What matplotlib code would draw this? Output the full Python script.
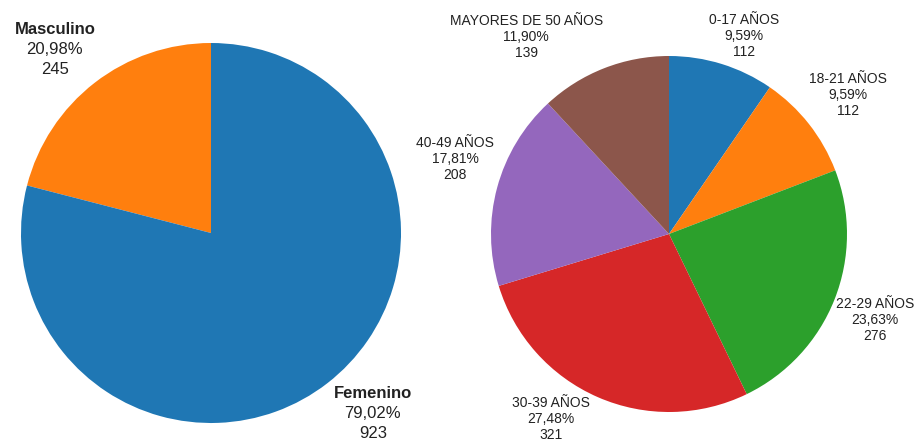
import numpy as np
import matplotlib.pyplot as plt

# data
sexo_labels = ['Masculino', 'Femenino']
sexo_values = [245, 923]
sexo_pct = ['20,98%', '79,02%']
sexo_colors = ['#ff7f0e', '#1f77b4']

edad_labels = ['0-17 AÑOS', '18-21 AÑOS', '22-29 AÑOS', '30-39 AÑOS',
               '40-49 AÑOS', 'MAYORES DE 50 AÑOS']
edad_values = [112, 112, 276, 321, 208, 139]
edad_pct = ['9,59%', '9,59%', '23,63%', '27,48%', '17,81%', '11,90%']
edad_colors = ['#1f77b4', '#ff7f0e', '#2ca02c', '#d62728', '#9467bd', '#8c564b']

plt.rcParams['font.family'] = ['Liberation Sans', 'DejaVu Sans']
text_color = '#222222'

W, H = 915, 441
fig = plt.figure(figsize=(W / 100, H / 100), dpi=100)


def pie_axes(cx, cy, r):
    # pie() sets limits to +-1.25, so the box is 2.5 r pixels square
    s = 2.5 * r
    return fig.add_axes([(cx - s / 2) / W, (H - cy - s / 2) / H, s / W, s / H])


def put_labels(ax, wedges, names, pcts, values, dist, shift, size, step, bold_name):
    # three lines per label: name / percent / count, centred on the middle line
    for w, name, pct, val, d, sh in zip(wedges, names, pcts, values, dist, shift):
        ang = np.deg2rad((w.theta1 + w.theta2) / 2 + sh)
        xy = (d * np.cos(ang), d * np.sin(ang))
        lines = [(name, step, 'bold' if bold_name else 'normal'),
                 (pct, 0, 'normal'),
                 (str(val), -step, 'normal')]
        for txt, dy, weight in lines:
            ax.annotate(txt, xy, xytext=(0, dy), textcoords='offset points',
                        ha='center', va='center', fontsize=size,
                        fontweight=weight, color=text_color,
                        annotation_clip=False)


# left pie: sexo
ax1 = pie_axes(211, 233, 190)
w1, _ = ax1.pie(sexo_values, colors=sexo_colors, startangle=90,
                counterclock=True, radius=1.0)
put_labels(ax1, w1, sexo_labels, sexo_pct, sexo_values,
           dist=[1.266, 1.274], shift=[2.7, 4.2], size=12, step=14.4,
           bold_name=True)

# right pie: edad
ax2 = pie_axes(669, 234, 178)
w2, _ = ax2.pie(edad_values, colors=edad_colors, startangle=90,
                counterclock=False, radius=1.0)
put_labels(ax2, w2, edad_labels, edad_pct, edad_values,
           dist=[1.19, 1.273, 1.254, 1.233, 1.274, 1.367],
           shift=[-3.5, -0.4, -1.1, -8.9, -4.2, 14.5], size=10, step=11.7,
           bold_name=False)

fig.savefig('out.png', dpi=100)
